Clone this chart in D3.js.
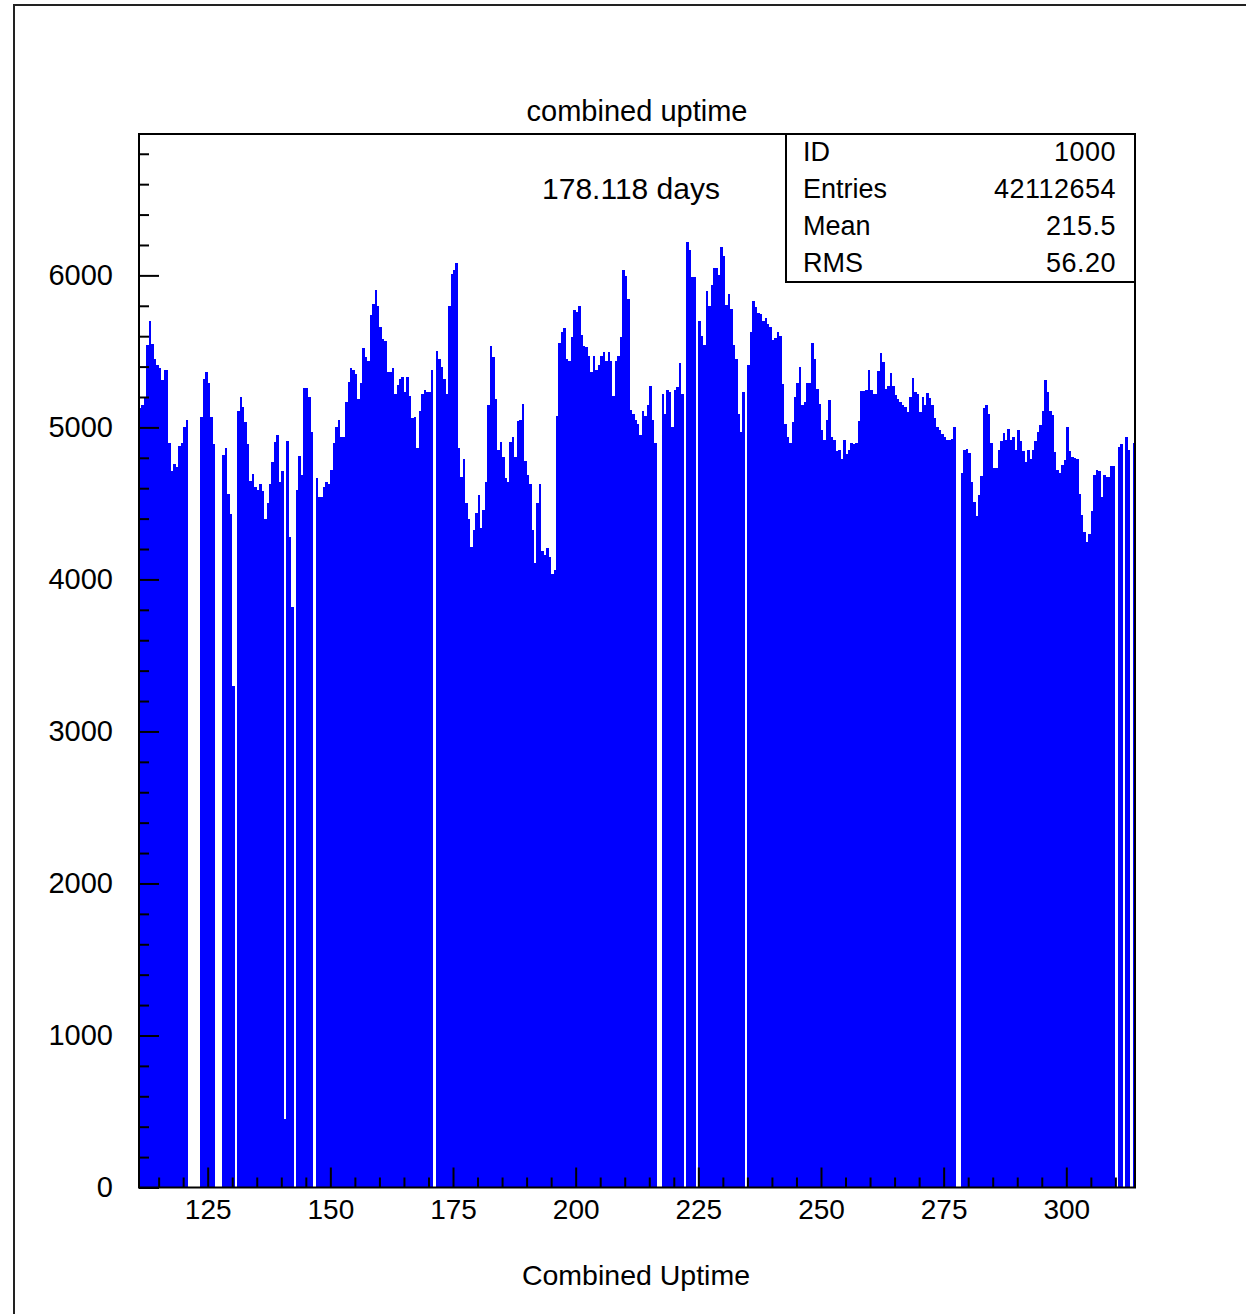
<!DOCTYPE html>
<html>
<head>
<meta charset="utf-8">
<script src="https://cdn.jsdelivr.net/npm/d3@7"></script>
<style>
  body { margin: 0; background: #fff; }
  text { font-family: "Liberation Sans", Arial, Helvetica, sans-serif; fill: #000; }
</style>
</head>
<body>
<div id="chart"></div>
<script>
// histogram contents, 0.5 wide bins from 111 to 314
const counts = [
  5130, 5150, 5200, 5540, 5700, 5550, 5450, 5410, 5390, 5310,
  5375, 5375, 4900, 4710, 4760, 4740, 4880, 4900, 5000, 5050,
  0, 0, 0, 0, 0, 5070, 5320, 5365, 5290, 5070,
  4890, 0, 0, 0, 4820, 4865, 4560, 4430, 3300, 0,
  5110, 5200, 5135, 5035, 4890, 4650, 4695, 4610, 4585, 4630,
  4580, 4400, 4500, 4630, 4770, 4905, 4950, 4640, 4710, 450,
  4910, 4280, 3820, 0, 4585, 4815, 4685, 5260, 5260, 5200,
  4970, 0, 4665, 4540, 4540, 4610, 4640, 4630, 4720, 4900,
  5000, 5050, 4940, 4940, 5170, 5300, 5390, 5380, 5350, 5190,
  5290, 5525, 5465, 5440, 5740, 5810, 5905, 5800, 5660, 5580,
  5570, 5365, 5365, 5390, 5220, 5280, 5320, 5330, 5235, 5330,
  5205, 5065, 5070, 4865, 5110, 5220, 5245, 5235, 5235, 5375,
  0, 5500, 5450, 5400, 5320, 5220, 5800, 6010, 6035, 6080,
  4865, 4675, 4790, 4500, 4400, 4215, 4325, 4435, 4555, 4340,
  4455, 4640, 5150, 5535, 5465, 5190, 4850, 4905, 4805, 4665,
  4640, 4905, 4935, 4805, 5045, 5050, 5155, 4780, 4690, 4630,
  4325, 4105, 4500, 4630, 4190, 4160, 4205, 4150, 4035, 4060,
  5075, 5555, 5625, 5655, 5450, 5440, 5595, 5775, 5760, 5800,
  5605, 5535, 5530, 5470, 5365, 5470, 5380, 5410, 5470, 5495,
  5440, 5495, 5440, 5205, 5435, 5470, 5595, 6035, 5995, 5845,
  5115, 5090, 5050, 5025, 4950, 5110, 5075, 5150, 5270, 5050,
  4895, 0, 0, 5220, 5090, 5245, 5235, 5005, 5245, 5265,
  5425, 5220, 0, 6220, 6165, 5990, 5990, 0, 5700, 5600,
  5540, 5900, 5800, 5935, 6050, 6050, 6000, 6185, 6125, 5805,
  5875, 5780, 5540, 5450, 5090, 4970, 5235, 0, 5410, 5625,
  5830, 5795, 5750, 5745, 5700, 5720, 5680, 5660, 5575, 5585,
  5625, 5600, 5285, 5020, 4935, 4895, 5035, 5200, 5290, 5395,
  5150, 5170, 5290, 5290, 5555, 5450, 5250, 5155, 4980, 4915,
  5050, 5180, 4940, 4915, 4845, 4850, 4795, 4920, 4825, 4850,
  4900, 4890, 4900, 5040, 5240, 5240, 5245, 5375, 5245, 5220,
  5220, 5370, 5490, 5430, 5255, 5270, 5360, 5270, 5210, 5185,
  5170, 5150, 5135, 5100, 5200, 5325, 5235, 5220, 5100, 5200,
  5145, 5225, 5195, 5150, 5060, 5005, 4980, 4955, 4935, 4920,
  4920, 4925, 5000, 0, 0, 4700, 4850, 4860, 4830, 4640,
  4510, 4415, 4555, 4680, 5125, 5145, 5085, 4895, 4735, 4735,
  4850, 4910, 4960, 4915, 4990, 4915, 4940, 4850, 4980, 4910,
  4845, 4775, 4850, 4790, 4850, 4910, 4970, 5015, 5110, 5315,
  5230, 5110, 5080, 4840, 4720, 4700, 4755, 4785, 5005, 4845,
  4805, 4800, 4795, 4565, 4425, 4310, 4245, 4300, 4450, 4685,
  4720, 4715, 4540, 4685, 4675, 4675, 4745, 4745, 0, 4870,
  4890, 0, 4935, 4850, 0, 4900
]
const xRange = [111, 314]
const yRange = [0, 6930]
const xMajor = [125, 150, 175, 200, 225, 250, 275, 300]
const xMinor = [115, 120, 130, 135, 140, 145, 155, 160, 165, 170, 180, 185, 190, 195, 205, 210, 215, 220,
  230, 235, 240, 245, 255, 260, 265, 270, 280, 285, 290, 295, 305, 310]
const yMajor = [0, 1000, 2000, 3000, 4000, 5000, 6000]
const yMinor = [200, 400, 600, 800, 1200, 1400, 1600, 1800, 2200, 2400, 2600, 2800, 3200, 3400, 3600, 3800,
  4200, 4400, 4600, 4800, 5200, 5400, 5600, 5800, 6200, 6400, 6600, 6800]
const statNames = ['ID', 'Entries', 'Mean', 'RMS']
const statValues = ['1000', '42112654', '215.5', '56.20']
const histTitle = 'combined uptime'
const xTitle = 'Combined Uptime'
const note = '178.118 days'

const W = 1251
const H = 1314
const plot = { left: 139, right: 1135, top: 134, bottom: 1187.5 }
const binWidth = (xRange[1] - xRange[0]) / counts.length

const svg = d3.select('#chart').append('svg')
  .attr('width', W)
  .attr('height', H)

const x = d3.scaleLinear().domain(xRange).range([plot.left, plot.right])
const y = d3.scaleLinear().domain(yRange).range([plot.bottom, plot.top])

// outer frame (only left and top edges are in view)
svg.append('path')
  .attr('d', 'M14,' + (H + 5) + 'V5H1246')
  .attr('fill', 'none')
  .attr('stroke', '#222')
  .attr('stroke-width', 2)

// bars
svg.append('g')
  .attr('shape-rendering', 'crispEdges')
  .selectAll('rect')
  .data(counts)
  .enter().append('rect')
  .attr('x', (d, i) => x(xRange[0] + i * binWidth))
  .attr('width', (d, i) => x(xRange[0] + (i + 1) * binWidth) - x(xRange[0] + i * binWidth))
  .attr('y', d => y(d))
  .attr('height', d => y(0) - y(d))
  .attr('fill', '#0000ff')

// y axis, ticks point inward
const yAxis = svg.append('g')
  .attr('transform', 'translate(' + plot.left + ',0)')
  .call(d3.axisLeft(y).tickValues(yMajor).tickSize(-20).tickPadding(26).tickFormat(d3.format('d')))
svg.append('g')
  .attr('transform', 'translate(' + plot.left + ',0)')
  .call(d3.axisLeft(y).tickValues(yMinor).tickSize(-10).tickFormat(''))
  .select('.domain').remove()

// x axis
const xAxis = svg.append('g')
  .attr('transform', 'translate(0,' + plot.bottom + ')')
  .call(d3.axisBottom(x).tickValues(xMajor).tickSize(-20).tickPadding(12))
svg.append('g')
  .attr('transform', 'translate(0,' + plot.bottom + ')')
  .call(d3.axisBottom(x).tickValues(xMinor).tickSize(-10).tickFormat(''))
  .select('.domain').remove()

svg.selectAll('.tick line').attr('stroke', '#000').attr('stroke-width', 2)
yAxis.select('.domain').remove()
xAxis.select('.domain').remove()
svg.selectAll('.tick text')
  .attr('font-family', '"Liberation Sans", Arial, sans-serif')
  .attr('fill', '#000')
yAxis.selectAll('.tick text').attr('font-size', 29)
xAxis.selectAll('.tick text').attr('font-size', 28)

// plot frame
svg.append('rect')
  .attr('x', plot.left)
  .attr('y', plot.top)
  .attr('width', plot.right - plot.left)
  .attr('height', plot.bottom - plot.top)
  .attr('fill', 'none')
  .attr('stroke', '#000')
  .attr('stroke-width', 2)

// titles
svg.append('text')
  .attr('x', 637).attr('y', 121)
  .attr('text-anchor', 'middle')
  .attr('font-size', 29)
  .text(histTitle)

svg.append('text')
  .attr('x', 631).attr('y', 199)
  .attr('text-anchor', 'middle')
  .attr('font-size', 30)
  .text(note)

svg.append('text')
  .attr('x', 636).attr('y', 1285)
  .attr('text-anchor', 'middle')
  .attr('font-size', 28.5)
  .text(xTitle)

// stats box
const box = svg.append('g')
box.append('rect')
  .attr('x', 786)
  .attr('y', plot.top)
  .attr('width', plot.right - 786)
  .attr('height', 148)
  .attr('fill', '#fff')
  .attr('stroke', '#000')
  .attr('stroke-width', 2)

statNames.forEach((name, i) => {
  const by = 161 + i * 37
  box.append('text')
    .attr('x', 803).attr('y', by)
    .attr('font-size', 27)
    .text(name)
  box.append('text')
    .attr('x', 1116).attr('y', by)
    .attr('text-anchor', 'end')
    .attr('font-size', 27)
    .attr('letter-spacing', 0.5)
    .text(statValues[i])
})
</script>
</body>
</html>
